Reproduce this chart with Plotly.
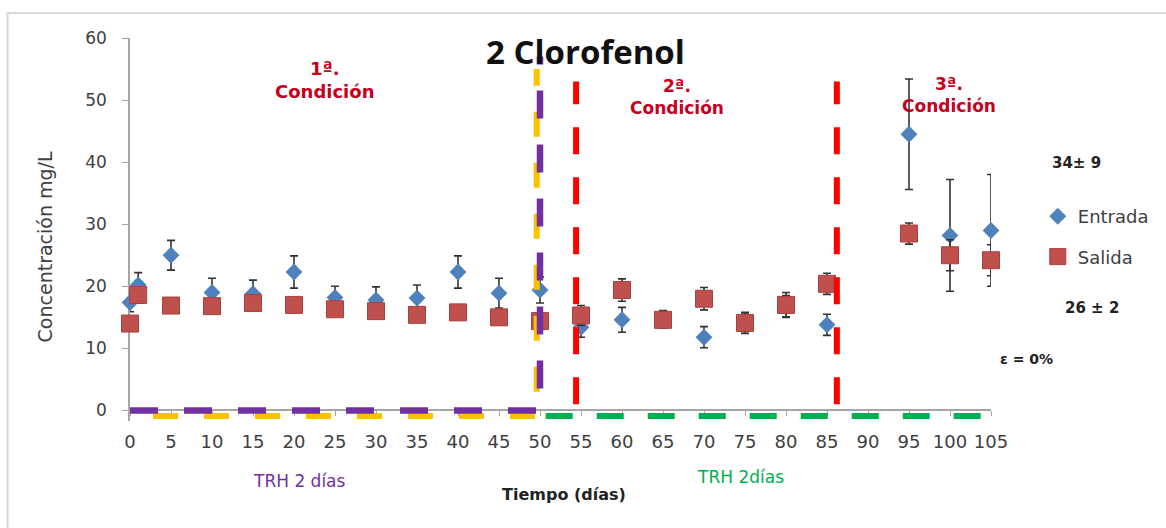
import plotly.graph_objects as go

# ---------------- data ----------------
days = [0, 1, 5, 10, 15, 20, 25, 30, 35, 40, 45, 50, 55, 60, 65, 70, 75, 80, 85, 95, 100, 105]
entrada = [17.4, 20.2, 25.0, 19.0, 18.8, 22.3, 18.2, 17.8, 18.1, 22.3, 18.9, 19.4,
           13.4, 14.6, 14.8, 11.8, 14.2, 16.8, 13.8, 44.5, 28.2, 29.0]
entrada_err = [1.5, 2.0, 2.4, 2.3, 2.2, 2.6, 1.8, 2.1, 2.1, 2.6, 2.4, 2.1,
               1.6, 2.0, 1.3, 1.7, 1.5, 1.7, 1.7, 8.9, 9.0, 9.0]
salida = [14.0, 18.6, 16.9, 16.8, 17.3, 17.0, 16.3, 16.0, 15.4, 15.8, 15.0, 14.4,
          15.3, 19.4, 14.6, 18.0, 14.1, 17.0, 20.4, 28.5, 25.0, 24.2]
salida_err = [0.5, 1.0, 0.6, 0.6, 0.6, 0.6, 1.1, 0.7, 0.6, 0.5, 0.6, 0.6,
              1.6, 1.8, 1.3, 1.8, 1.7, 2.0, 1.7, 1.7, 2.5, 2.5]

x_ticks = list(range(0, 110, 5))
y_ticks = [0, 10, 20, 30, 40, 50, 60]

# TRH (hydraulic retention time) markers
trh1_purple_x = [0, 50, 50]
trh1_purple_y = [0, 0, 57]
trh1_orange_x = [2.8, 49.6, 49.6]
trh1_orange_y = [-0.9, -0.9, 55]
trh2_green_x = [50.7, 105]
trh2_green_y = [-0.9, -0.9]
# condition boundaries (red dashed)
cond_bounds = [54.4, 86.2]
cond_y = [1, 53]

X_RANGE = [0, 105]
Y_RANGE = [-1.7, 60]

# ---------------- layout helpers ----------------
W, H = 1166, 528
ML, MR, MT, MB = 130, 171, 38, 107
PW = W - ML - MR
PH = H - MT - MB


def px(x):
    return (x - ML) / PW


def py(y):
    return (H - MB - y) / PH


fig = go.Figure()

fig.add_trace(go.Scatter(
    x=days, y=entrada, mode="markers", name="Entrada",
    marker=dict(symbol="diamond", size=13, color="#4f81bd"),
    error_y=dict(type="data", array=entrada_err, color="#333333", thickness=1.6, width=4),
    cliponaxis=False, legendgroup="e",
))
fig.add_trace(go.Scatter(
    x=days, y=salida, mode="markers", name="Salida",
    marker=dict(symbol="square", size=17, color="#c0504d", line=dict(color="#a8403d", width=1)),
    error_y=dict(type="data", array=salida_err, color="#333333", thickness=1.6, width=4),
    cliponaxis=False, legendgroup="s",
))

fig.add_trace(go.Scatter(
    x=trh1_orange_x, y=trh1_orange_y, mode="lines", showlegend=False, hoverinfo="skip",
    line=dict(color="#ffc000", width=6, dash="25px,26px"),
))
fig.add_trace(go.Scatter(
    x=trh1_purple_x, y=trh1_purple_y, mode="lines", showlegend=False, hoverinfo="skip",
    line=dict(color="#7030a0", width=6.5, dash="28px,26px"),
))
fig.add_trace(go.Scatter(
    x=trh2_green_x, y=trh2_green_y, mode="lines", showlegend=False, hoverinfo="skip",
    line=dict(color="#00b050", width=6, dash="27px,24px"),
))
for cb in cond_bounds:
    fig.add_trace(go.Scatter(
        x=[cb, cb], y=cond_y, mode="lines", showlegend=False, hoverinfo="skip",
        line=dict(color="#ff0000", width=6, dash="27px,23px"),
    ))

y0frac = (0 - Y_RANGE[0]) / (Y_RANGE[1] - Y_RANGE[0])

fig.update_layout(
    width=W, height=H, autosize=False,
    margin=dict(l=ML, r=MR, t=MT, b=MB),
    paper_bgcolor="white", plot_bgcolor="white",
    font=dict(family="DejaVu Sans", color="#404040"),
    xaxis=dict(
        range=X_RANGE, tickvals=x_ticks, ticktext=[str(t) for t in x_ticks],
        showline=True, linecolor="#a6a6a6", linewidth=1.5,
        ticks="outside", ticklen=5, tickcolor="#a6a6a6",
        showgrid=False, zeroline=False, anchor="free", position=y0frac,
        tickfont=dict(family="DejaVu Sans", size=18, color="#404040"),
        ticklabelstandoff=10, layer="below traces",
    ),
    yaxis=dict(
        range=Y_RANGE, tickvals=y_ticks,
        showline=True, linecolor="#a6a6a6", linewidth=1.5,
        ticks="outside", ticklen=6, tickcolor="#a6a6a6",
        showgrid=False, zeroline=False,
        tickfont=dict(family="DejaVu Sans", size=17, color="#404040"),
        ticklabelstandoff=12, layer="below traces",
    ),
    legend=dict(
        x=px(1042), y=py(198), xanchor="left", yanchor="top",
        font=dict(family="DejaVu Sans", size=18, color="#404040"),
        bgcolor="rgba(0,0,0,0)", traceorder="grouped", tracegroupgap=14,
    ),
    showlegend=True,
)

fig.add_shape(type="rect", xref="paper", yref="paper",
              x0=px(7), x1=px(1180), y0=py(540), y1=py(13),
              line=dict(color="#d9d9d9", width=2), layer="below")

red = "#c8001e"
ann = [
    dict(text="2 Clorofenol", x=px(588), y=py(52),
         font=dict(family="Open Sans", size=33, color="#111111", weight="bold")),
    dict(text="1ª.<br>Condición", x=px(325), y=py(80),
         font=dict(family="DejaVu Sans", size=18, color=red, weight="bold")),
    dict(text="2ª.<br>Condición", x=px(680), y=py(97),
         font=dict(family="DejaVu Sans", size=17, color=red, weight="bold")),
    dict(text="3ª.<br>Condición", x=px(953), y=py(95),
         font=dict(family="DejaVu Sans", size=17, color=red, weight="bold")),
    dict(text="34± 9", x=px(1081), y=py(163),
         font=dict(family="DejaVu Sans", size=15, color="#222222", weight="bold")),
    dict(text="26 ± 2", x=px(1096), y=py(308),
         font=dict(family="DejaVu Sans", size=15, color="#222222", weight="bold")),
    dict(text="ε = 0%", x=px(1031), y=py(359),
         font=dict(family="DejaVu Sans", size=14, color="#222222", weight="bold")),
    dict(text="TRH 2 días", x=px(300), y=py(481),
         font=dict(family="DejaVu Sans", size=17, color="#7030a0")),
    dict(text="Tiempo (días)", x=px(566), y=py(494),
         font=dict(family="DejaVu Sans", size=16, color="#222222", weight="bold")),
    dict(text="TRH 2días", x=px(743), y=py(477),
         font=dict(family="DejaVu Sans", size=17, color="#00b050")),
    dict(text="Concentración mg/L", x=px(45), y=py(247), textangle=-90,
         font=dict(family="DejaVu Sans", size=19, color="#404040")),
]
for a in ann:
    fig.add_annotation(xref="paper", yref="paper", showarrow=False,
                       xanchor="center", yanchor="middle", **a)

fig.write_html("out.html")
